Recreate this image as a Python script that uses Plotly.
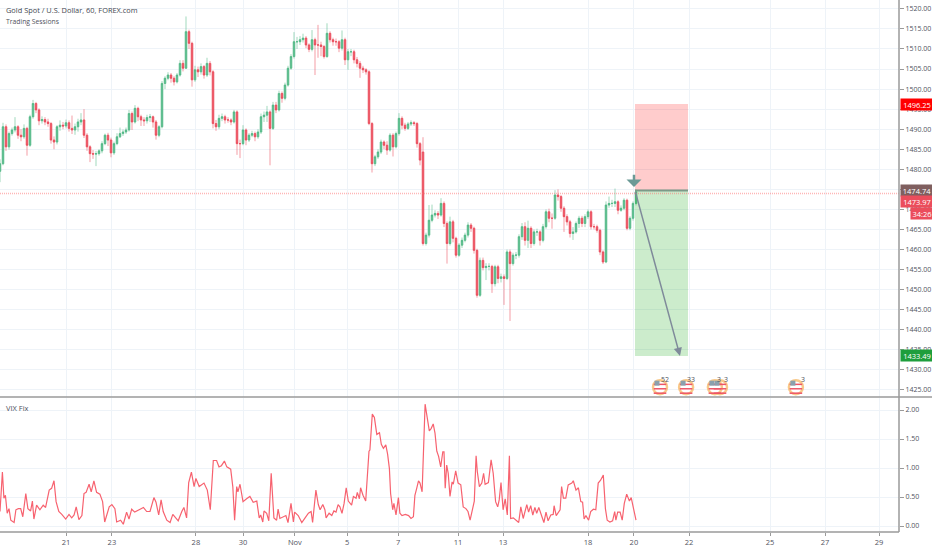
import plotly.graph_objects as go
from plotly.subplots import make_subplots

W, H = 932, 550

#%% Candles, one every 3 pixels of the original chart
opens = [
    1479.5,1481.4,1490.6,1485.6,1488.9,1489.8,1490.6,1488.5,1488.1,1490.2,
    1486.0,1493.1,1496.4,1494.8,1492.1,1492.4,1491.8,1491.4,1487.3,1486.8,
    1490.6,1491.0,1490.8,1491.6,1490.2,1489.8,1490.6,1491.8,1492.3,1488.5,
    1485.6,1483.9,1483.8,1483.9,1484.6,1486.4,1488.5,1487.3,1484.1,1486.4,
    1488.1,1488.9,1489.3,1489.8,1493.9,1491.8,1495.2,1493.1,1492.3,1492.1,
    1492.9,1493.1,1491.8,1488.5,1490.6,1501.4,1502.7,1503.5,1502.7,1501.8,
    1503.5,1506.4,1505.2,1514.3,1511.4,1502.3,1504.8,1504.3,1505.6,1503.5,
    1506.4,1504.3,1491.4,1490.6,1492.7,1493.1,1492.3,1492.3,1491.8,1494.3,
    1486.4,1486.4,1489.8,1487.3,1488.5,1488.9,1488.1,1489.3,1493.1,1493.5,
    1494.3,1490.2,1496.0,1494.8,1498.9,1497.7,1501.0,1505.2,1508.1,1511.8,
    1511.8,1512.3,1512.7,1511.0,1509.9,1512.3,1511.0,1511.0,1510.6,1508.1,
    1513.9,1512.3,1511.8,1511.8,1510.2,1512.3,1507.3,1509.3,1509.3,1507.3,
    1506.4,1505.2,1504.8,1504.3,1491.4,1481.4,1483.1,1484.3,1486.8,1486.0,
    1484.8,1488.5,1485.6,1488.9,1492.7,1491.0,1490.2,1491.3,1491.6,1491.4,
    1486.4,1484.3,1461.5,1463.6,1467.3,1468.6,1469.0,1468.6,1471.5,
    1466.5,1461.5,1466.9,1462.8,1458.6,1461.1,1462.3,1463.6,1466.1,1465.3,
    1459.8,1448.6,1457.3,1455.5,1455.8,1455.8,1451.5,1455.7,1452.8,1453.2,
    1452.8,1459.4,1456.5,1458.6,1458.6,1463.2,1465.7,1462.3,1465.3,1461.5,
    1464.4,1464.4,1462.3,1465.7,1469.4,1467.8,1467.8,1473.6,1473.2,1470.3,
    1468.2,1466.9,1464.0,1464.4,1466.5,1467.8,1466.5,1468.2,1469.4,1465.7,
    1465.7,1464.8,1459.4,1456.9,1471.1,1471.5,1471.5,1471.9,1469.8,1470.3,
    1472.3,1465.3,1467.8,1471.5,
]
highs = [
    1482.5,1491.6,1491.2,1489.4,1490.4,1493.0,1491.0,1490.0,1491.2,1490.6,
    1493.6,1497.3,1496.8,1495.2,1493.2,1493.0,1492.6,1491.8,1488.2,1491.0,
    1492.2,1491.8,1492.4,1492.2,1493.4,1491.4,1492.6,1494.0,1495.0,1489.0,
    1486.0,1484.8,1484.6,1485.0,1487.0,1488.9,1489.1,1487.9,1486.9,1489.0,
    1490.4,1489.9,1490.4,1494.8,1494.4,1496.0,1495.6,1493.6,1493.0,1493.6,
    1493.8,1493.4,1492.3,1491.0,1502.0,1503.2,1504.2,1504.0,1503.2,1504.0,
    1507.2,1507.2,1518.1,1514.8,1511.8,1505.8,1505.6,1506.4,1506.0,1507.8,
    1507.0,1504.7,1492.3,1493.6,1493.9,1493.6,1493.0,1492.7,1494.8,1494.7,
    1487.4,1491.0,1490.2,1489.0,1489.6,1489.4,1490.0,1493.9,1494.4,1495.8,
    1494.7,1496.8,1496.8,1499.6,1499.4,1501.6,1505.8,1508.7,1514.2,1513.0,
    1513.2,1513.8,1513.2,1511.4,1514.7,1512.8,1516.0,1511.8,1511.0,1516.4,
    1514.4,1512.8,1512.6,1512.2,1514.6,1512.8,1510.0,1510.0,1509.8,1508.0,
    1507.0,1505.8,1505.2,1504.7,1491.8,1483.6,1485.0,1487.4,1487.2,1487.0,
    1489.0,1489.0,1489.4,1494.0,1493.2,1491.6,1491.8,1492.2,1492.0,1491.8,
    1486.8,1488.0,1464.2,1471.1,1471.2,1469.8,1469.6,1472.8,1472.0,
    1467.0,1468.2,1467.4,1463.2,1461.6,1463.0,1464.2,1466.8,1466.6,1465.7,
    1460.2,1458.0,1458.0,1456.6,1456.6,1456.2,1456.2,1456.2,1454.0,1453.8,
    1460.0,1460.0,1459.2,1459.4,1463.8,1466.6,1466.8,1467.2,1465.8,1465.0,
    1465.2,1464.8,1466.4,1470.0,1470.2,1469.0,1474.8,1475.0,1473.6,1470.8,
    1468.8,1467.4,1465.6,1467.0,1468.4,1468.4,1468.8,1470.0,1469.8,1466.4,
    1466.2,1465.2,1459.8,1472.0,1473.2,1472.4,1475.2,1472.3,1471.0,1472.8,
    1472.7,1468.3,1472.0,1475.0,
]
lows = [
    1476.8,1481.0,1484.6,1484.9,1488.4,1489.2,1487.6,1487.0,1487.6,1483.4,
    1485.6,1492.6,1494.0,1491.0,1491.4,1491.0,1490.6,1486.4,1485.0,1486.2,
    1489.6,1490.0,1490.2,1489.4,1488.8,1488.6,1489.4,1491.0,1487.8,1484.6,
    1481.8,1482.6,1480.8,1483.4,1484.0,1486.0,1485.8,1483.0,1483.6,1486.0,
    1487.8,1488.3,1488.8,1489.4,1489.8,1491.4,1492.0,1490.8,1490.8,1491.4,
    1491.8,1490.4,1487.4,1488.0,1490.2,1500.0,1502.2,1501.6,1500.9,1501.4,
    1503.1,1504.4,1505.0,1510.0,1500.6,1501.8,1503.0,1503.6,1502.6,1503.0,
    1503.4,1490.2,1489.6,1490.0,1492.0,1491.4,1491.6,1491.0,1491.4,1483.6,
    1482.8,1486.0,1486.0,1486.8,1488.0,1487.0,1487.6,1488.8,1491.8,1491.8,
    1481.0,1489.8,1494.0,1494.4,1496.6,1497.2,1500.6,1504.8,1507.6,1510.0,
    1511.0,1511.6,1510.2,1509.2,1509.4,1503.5,1507.8,1508.2,1507.6,1507.8,
    1511.6,1510.8,1510.8,1509.2,1509.6,1506.0,1504.8,1508.2,1506.4,1505.4,
    1502.8,1504.0,1503.6,1491.0,1479.2,1480.8,1482.6,1483.8,1485.0,1483.6,
    1484.4,1483.2,1485.2,1488.4,1490.0,1489.6,1489.8,1490.8,1490.8,1485.4,
    1481.0,1461.0,1461.0,1463.0,1466.8,1468.0,1467.6,1468.2,1465.6,
    1456.5,1461.0,1461.8,1458.0,1458.2,1460.4,1461.8,1463.0,1464.4,1459.0,
    1448.0,1448.2,1454.8,1452.4,1454.8,1449.2,1450.8,1451.6,1451.8,1446.2,
    1452.4,1442.2,1456.0,1457.6,1458.0,1462.4,1461.0,1460.4,1460.4,1461.0,
    1463.4,1461.0,1461.8,1465.2,1466.8,1465.2,1467.4,1472.2,1469.4,1464.4,
    1466.0,1463.0,1462.4,1464.0,1465.4,1465.6,1465.6,1467.6,1465.0,1465.0,
    1464.2,1458.6,1456.4,1456.6,1470.4,1470.6,1470.6,1468.8,1469.4,1469.8,
    1464.8,1464.8,1467.2,1471.0,
]
closes = [
    1481.4,1490.6,1485.6,1488.9,1489.8,1490.6,1488.5,1488.1,1490.2,1486.0,
    1493.1,1496.4,1494.8,1492.1,1492.4,1491.8,1491.4,1487.3,1486.8,1490.6,
    1491.0,1490.8,1491.6,1490.2,1489.8,1490.6,1491.8,1492.3,1488.5,1485.6,
    1483.9,1483.8,1483.9,1484.6,1486.4,1488.5,1487.3,1484.1,1486.4,1488.1,
    1488.9,1489.3,1489.8,1493.9,1491.8,1495.2,1493.1,1492.3,1492.1,1492.9,
    1493.1,1491.8,1488.5,1490.6,1501.4,1502.7,1503.5,1502.7,1501.8,1503.5,
    1506.4,1505.2,1514.3,1511.4,1502.3,1504.8,1504.3,1505.6,1503.5,1506.4,
    1504.3,1491.4,1490.6,1492.7,1493.1,1492.3,1492.3,1491.8,1494.3,1486.4,
    1486.4,1489.8,1487.3,1488.5,1488.9,1488.1,1489.3,1493.1,1493.5,1494.3,
    1490.2,1496.0,1494.8,1498.9,1497.7,1501.0,1505.2,1508.1,1511.8,1511.8,
    1512.3,1512.7,1511.0,1509.9,1512.3,1511.0,1511.0,1510.6,1508.1,1513.9,
    1512.3,1511.8,1511.8,1510.2,1512.3,1507.3,1509.3,1509.3,1507.3,1506.4,
    1505.2,1504.8,1504.3,1491.4,1481.4,1483.1,1484.3,1486.8,1486.0,1484.8,
    1488.5,1485.6,1488.9,1492.7,1491.0,1490.2,1491.3,1491.6,1491.4,1486.4,
    1482.3,1461.5,1463.6,1467.3,1468.6,1469.0,1468.6,1471.5,1466.5,
    1461.5,1466.9,1462.8,1458.6,1461.1,1462.3,1463.6,1466.1,1465.3,1459.8,
    1448.6,1457.3,1455.5,1455.8,1455.8,1451.5,1455.7,1452.8,1453.2,1452.8,
    1459.4,1456.5,1458.6,1458.6,1463.2,1465.7,1462.3,1465.3,1461.5,1464.4,
    1464.4,1462.3,1465.7,1469.4,1467.8,1467.8,1473.6,1473.2,1470.3,1468.2,
    1466.9,1464.0,1464.4,1466.5,1467.8,1466.5,1468.2,1469.4,1465.7,1465.7,
    1464.8,1459.4,1456.9,1471.1,1471.5,1471.5,1471.9,1469.8,1470.3,1472.3,
    1465.3,1467.8,1471.5,1474.4,
]
bars = list(range(len(closes)))

#%% VIX Fix pane
vix_bars = [
    0,0.8,1.3,1.8,2.4,3,3.6,4.7,5.3,6.1,6.9,7.6,8.6,9.3,10.2,10.8,11.3,12.2,13.3,14.4,
    15.2,16.4,17.2,18,18.7,19.6,20.6,21.9,23,23.9,24.7,25.4,26.3,27.3,28,28.7,29.7,30.4,31.3,32.2,
    33.3,34.2,34.9,35.8,36.4,37.3,38.3,38.9,40.2,41.1,42.2,43,43.9,44.9,45.8,46.7,47.8,48.9,50,51.3,
    52,52.9,53.7,54.4,55.6,56.7,57.6,58.7,59.4,60.6,61.3,62.2,62.9,63.8,64.7,65.3,66.4,68,69.1,70.1,
    71.1,72.2,73,73.8,74.8,75.6,76.9,77.6,78.2,78.9,79.3,80,81,82.2,83.3,84.4,85.6,86.4,86.9,87.6,
    88,88.9,89.6,90.4,91.3,92.2,92.7,93.3,94.4,95.3,96,97,97.8,98.2,99.4,100.6,101.7,102.8,103.7,104.2,
    105.3,106.1,106.7,107.6,108.3,108.7,109.7,110.6,111.3,112,112.7,113.3,114,114.7,115.4,116.1,117.2,117.8,118.7,119.1,
    119.8,120.2,121,121.9,122.4,123,123.3,124.1,124.8,125.6,126.5,127.1,127.8,128.6,129.2,129.8,130.2,130.9,131.3,132,
    132.8,133.3,134,135.1,136.2,137,137.8,138.3,138.9,139.5,140,140.7,141.7,142.4,143.1,143.7,144.4,145,145.6,146.2,
    146.9,147.6,148,148.4,148.9,149.4,150,150.7,151.1,151.9,152.7,153.6,154.4,155.3,156,156.7,157.6,158.1,158.7,159.1,
    159.8,160.6,161.2,161.7,162.8,163.7,164.4,165.2,165.9,166.4,167,167.7,168.4,169.1,169.8,170.2,171.1,172.2,172.9,173.6,
    174.4,175.6,176.2,176.9,177.6,178.3,178.9,179.6,180.4,181.3,182,182.7,183.6,184.4,184.7,185.4,186.7,187.2,187.8,188.6,
    189.4,190.6,191.1,192,192.8,193.6,194.2,194.7,195.3,196.2,196.9,197.8,198.6,199.4,200.2,201.1,201.8,202.4,203.3,204.2,
    204.9,205.3,205.9,206.7,207.4,208.1,208.9,209.8,210.4,211.1,212,
]
vix_fix = [
    .25,.93,.48,.53,.22,.30,.10,.06,.28,.30,.30,.16,.56,.30,.26,.43,.12,.36,.28,.36,
    .32,.62,.65,.78,.42,.25,.20,.12,.20,.14,.19,.33,.11,.18,.56,.58,.72,.59,.78,.58,
    .55,.42,.07,.25,.33,.37,.30,.07,.10,.03,.24,.12,.29,.24,.26,.29,.32,.25,.25,.49,
    .41,.19,.45,.25,.10,.06,.20,.13,.09,.25,.32,.14,.75,.93,.68,.82,.68,.74,.62,.28,
    1.13,1.13,1.02,1.04,1.12,1.02,.98,.68,.10,.68,.59,.72,.42,.47,.51,.41,.43,.14,.19,.07,
    .26,.22,.09,.91,.14,.10,.29,.13,.16,.18,.06,.39,.07,.24,.18,.06,.14,.22,.25,.06,
    .62,.37,.28,.37,.28,.14,.22,.18,.26,.24,.37,.33,.22,.39,.66,.43,.36,.51,.48,.58,
    .47,.66,.53,.43,.82,1.29,1.31,1.93,1.87,1.58,1.61,1.41,1.34,1.40,1.24,.99,.56,.28,.39,.19,
    .49,.22,.18,.20,.18,.13,.16,.53,.65,.78,.74,.59,2.10,1.89,1.64,1.68,1.76,1.60,1.29,1.20,
    1.02,1.28,1.28,.65,1.05,.91,.51,.76,.72,.95,.74,.71,.33,.30,.25,.10,.28,.43,1.21,.94,
    .68,.74,.91,.72,.75,1.14,.91,.42,.33,.45,.75,.28,.47,.19,1.21,.13,.14,.09,.06,.33,
    .13,.37,.24,.35,.19,.32,.22,.32,.19,.06,.24,.09,.19,.20,.35,.18,.28,.68,.48,.48,
    .71,.74,.78,.62,.66,.42,.41,.12,.18,.10,.25,.29,.28,.74,.79,.88,.30,.10,.07,.09,
    .25,.10,.24,.24,.10,.39,.55,.43,.49,.29,.10,
]

#%% Axis labels and the short position drawing
tick_bars = [22, 37.3, 65.3, 81, 98.3, 115.7, 132.7, 152.7, 167.7, 196, 211.3, 229.7, 256.7, 275, 293]
tick_text = ['21', '23', '28', '30', 'Nov', '5', '7', '11', '13', '18', '20', '22', '25', '27', '29']
price_ticks = [1425 + 5 * i for i in range(20)]
vix_ticks = [0, 0.5, 1, 1.5, 2]

last_price = 1473.97
entry = 1474.74
stop = 1496.25
target = 1433.49

event_bars = [240, 220, 228.7, 238.3, 265.3]
event_counts = ['5', '2', '33', '3', '3', '3']
event_count_bars = [221, 222.4, 230.4, 239.7, 242, 267.6]

UP, DOWN = '#53b987', '#eb4d5c'
GRID = '#eef3f8'
TEXT = '#50535e'
FONT = 'Open Sans'

fig = make_subplots(rows=2, cols=1, shared_xaxes=True)

# wicks are paler than the bodies, so they get their own layer
fig.add_trace(go.Candlestick(
    x=bars, open=opens, high=highs, low=lows, close=closes,
    increasing=dict(line=dict(color='rgba(83,185,135,0.55)', width=1), fillcolor='rgba(0,0,0,0)'),
    decreasing=dict(line=dict(color='rgba(235,77,92,0.55)', width=1), fillcolor='rgba(0,0,0,0)'),
    whiskerwidth=0, showlegend=False), row=1, col=1)
fig.add_trace(go.Candlestick(
    x=bars, open=opens, close=closes,
    high=[max(o, c) for o, c in zip(opens, closes)],
    low=[min(o, c) for o, c in zip(opens, closes)],
    increasing=dict(line=dict(color=UP, width=0.6), fillcolor=UP),
    decreasing=dict(line=dict(color=DOWN, width=0.6), fillcolor=DOWN),
    whiskerwidth=0, showlegend=False), row=1, col=1)

# event flags under the price: ring, stripes, blue corner
fig.add_trace(go.Scatter(
    x=event_bars, y=[1425.7] * len(event_bars), mode='markers', showlegend=False,
    marker=dict(symbol='circle', size=14, color='white', line=dict(color='#f8c98a', width=2.5))), row=1, col=1)
for level in [1424.2, 1425.3, 1426.4]:
    fig.add_trace(go.Scatter(
        x=event_bars, y=[level] * len(event_bars), mode='markers', showlegend=False,
        marker=dict(symbol='line-ew', size=9, line=dict(color='#ee5566', width=1.5))), row=1, col=1)
fig.add_trace(go.Scatter(
    x=[b - 1 for b in event_bars], y=[1426.7] * len(event_bars), mode='markers', showlegend=False,
    marker=dict(symbol='square', size=5, color='#8aa0ad')), row=1, col=1)

fig.add_trace(go.Scatter(
    x=vix_bars, y=vix_fix, mode='lines', showlegend=False,
    line=dict(color='#f7626f', width=1.2)), row=2, col=1)

fig.update_xaxes(
    range=[0, 899 / 3], domain=[0, 899 / W], rangeslider_visible=False, automargin=False,
    tickmode='array', tickvals=tick_bars, ticktext=tick_text,
    showgrid=True, gridcolor=GRID, gridwidth=1, zeroline=False,
    tickfont=dict(family=FONT, size=7.5, color=TEXT))
fig.update_xaxes(showticklabels=False, row=1, col=1)
fig.update_xaxes(ticks='outside', ticklen=3, tickcolor='#9a9a9a', row=2, col=1)

fig.update_yaxes(
    side='right', automargin=False, showgrid=True, gridcolor=GRID, gridwidth=1, zeroline=False,
    ticks='outside', ticklen=4, tickcolor='#9a9a9a',
    tickfont=dict(family=FONT, size=7, color=TEXT))
fig.update_yaxes(
    range=[1423.25, 1522.2], domain=[(H - 397) / H, 1],
    tickmode='array', tickvals=price_ticks, tickformat='.2f', row=1, col=1)
fig.update_yaxes(
    range=[-0.103, 2.207], domain=[(H - 532) / H, (H - 398) / H],
    tickmode='array', tickvals=vix_ticks, tickformat='.2f', row=2, col=1)

box_x0, box_x1 = 635 / 3, 688 / 3
shapes = [
    dict(type='rect', xref='x', yref='y', x0=box_x0, x1=box_x1, y0=entry, y1=stop,
         fillcolor='rgba(255,0,0,0.2)', line_width=0),
    dict(type='rect', xref='x', yref='y', x0=box_x0, x1=box_x1, y0=target, y1=entry,
         fillcolor='rgba(0,160,0,0.2)', line_width=0),
    dict(type='line', xref='x', yref='y', x0=box_x0, x1=box_x1, y0=entry, y1=entry,
         line=dict(color='#7d9a88', width=2)),
    dict(type='line', xref='x', yref='y', x0=0, x1=899 / 3, y0=last_price, y1=last_price,
         line=dict(color='rgba(255,110,110,0.5)', width=1.5, dash='1px,1px')),
    # pane borders
    dict(type='line', xref='paper', yref='paper', x0=0, x1=1, y0=(H - 397) / H, y1=(H - 397) / H,
         line=dict(color='#9a9a9a', width=1.5)),
    dict(type='line', xref='paper', yref='paper', x0=0, x1=899 / W, y0=(H - 532) / H, y1=(H - 532) / H,
         line=dict(color='#9a9a9a', width=1.5)),
    dict(type='line', xref='paper', yref='paper', x0=899 / W, x1=899 / W, y0=(H - 532) / H, y1=1,
         line=dict(color='#9a9a9a', width=1.5)),
]

def text_at(x, y, text, size=7, color=TEXT, **kw):
    return dict(xref='paper', yref='paper', x=x / W, y=(H - y) / H, text=text, showarrow=False,
                xanchor='left', yanchor='middle', font=dict(family=FONT, size=size, color=color), **kw)

def price_tag(y, text, bg, x=900, w=32):
    return text_at(x, y, text, size=7.5, color='white', bgcolor=bg, width=w, height=11,
                   borderpad=0, align='center')

annotations = [
    text_at(4, 10, 'Gold Spot / U.S. Dollar, 60, FOREX.com', size=7.4, color='#444750'),
    text_at(4, 21, 'Trading Sessions', size=6.8),
    text_at(4, 408, 'VIX Fix', size=7.5),
    price_tag(104, '1496.25', '#ff0000'),
    price_tag(190, '1474.74', '#7f5f5f'),
    price_tag(201, '1473.97', '#eb4d5c'),
    price_tag(213, '34:26', '#eb4d5c', x=910, w=22),
    price_tag(355, '1433.49', '#1e9e3c'),
    # short trade projection
    dict(xref='x', yref='y', axref='x', ayref='y', x=680 / 3, y=target, ax=box_x0, ay=entry,
         text='', showarrow=True, arrowhead=2, arrowsize=1.1, arrowwidth=1.5, arrowcolor='#7f8a9a'),
    # short entry marker
    dict(xref='x', yref='y', axref='x', ayref='y', x=634 / 3, y=1475.6, ax=634 / 3, ay=1479,
         text='', showarrow=True, arrowhead=1, arrowsize=1, arrowwidth=2.5, arrowcolor='#6b9a96'),
]
for b, label in zip(event_count_bars, event_counts):
    annotations.append(dict(xref='x', yref='y', x=b, y=1427.5, text=label, showarrow=False,
                            font=dict(family=FONT, size=7, color=TEXT)))

fig.update_layout(
    width=W, height=H, margin=dict(l=0, r=0, t=0, b=0),
    paper_bgcolor='white', plot_bgcolor='white',
    shapes=shapes, annotations=annotations, showlegend=False)

# the browser's default body margin would push the chart 8 px off the frame
fig.write_html("out.html", config={'displayModeBar': False},
               post_script="document.body.style.margin='0';")
